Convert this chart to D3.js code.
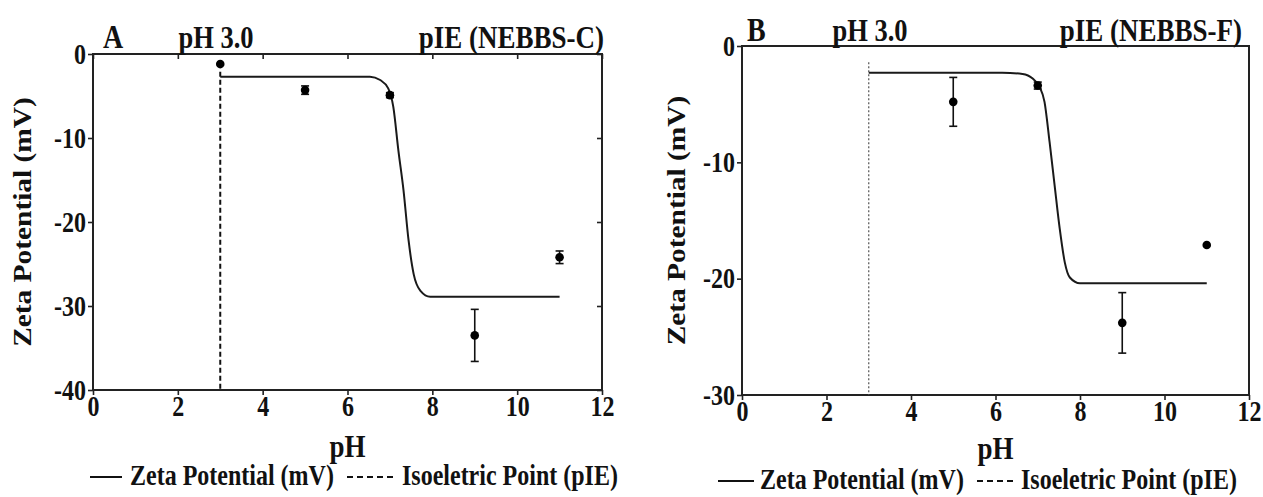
<!DOCTYPE html>
<html><head><meta charset="utf-8">
<script src="https://cdn.jsdelivr.net/npm/d3@7"></script>
<style>
body{margin:0;background:#fff}
text{font-family:"Liberation Serif","Times New Roman",serif;font-weight:bold;fill:#111}
</style>
</head><body>
<svg id="c" width="1263" height="497"></svg>
<script>
// ---------- data ----------
const xTicks = [0, 2, 4, 6, 8, 10, 12];
const aYTicks = [0, -10, -20, -30, -40];
const bYTicks = [0, -10, -20, -30];

const aPH = [3, 5, 7, 9, 11];
const aZeta = [-1.2, -4.3, -4.9, -33.5, -24.2];
const aErr = [0, 0.5, 0.3, 3.1, 0.75];
const aFitPH = [3.0, 6.53, 6.77, 6.96, 7.08, 7.2, 7.32, 7.44, 7.56, 7.72, 7.95, 11.0];
const aFitZeta = [-2.7, -2.7, -3.1, -4.1, -6.3, -11.5, -16.2, -22.2, -26.2, -28.2, -28.9, -28.9];
const aPIE = 3.0;
const aPIEspan = [-2.1, -40];

const bPH = [5, 7, 9, 11];
const bZeta = [-4.8, -3.4, -23.8, -17.1];
const bErr = [2.1, 0.3, 2.6, 0];
const bFitPH = [3.0, 6.16, 6.64, 6.88, 7.04, 7.16, 7.28, 7.40, 7.52, 7.64, 7.76, 8.0, 11.0];
const bFitZeta = [-2.3, -2.3, -2.4, -2.8, -3.5, -4.8, -8.25, -12.0, -15.7, -18.6, -19.9, -20.4, -20.4];
const bPIE = 3.0;
const bPIEspan = [-1.4, -30];

const legendLabels = ["Zeta Potential (mV)", "Isoeletric Point (pIE)"];

// ---------- drawing ----------
const svg = d3.select("#c");
const SY = 1.2;

function txt(g, s, x, y, size, anchor, rot) {
  return g.append("text")
    .attr("transform", `translate(${x},${y}) scale(1,${SY})` + (rot ? ` rotate(${rot})` : ""))
    .attr("text-anchor", anchor || "start")
    .style("font-size", size + "px")
    .text(s);
}

function panel(o) {
  const g = svg.append("g");
  const x = d3.scaleLinear().domain([0, 12]).range([o.x0, o.x1]);
  const y = d3.scaleLinear().domain([o.yMin, 0]).range([o.y1, o.y0]);
  const fmt = d => String(d);

  // frame
  g.append("rect").attr("x", o.x0).attr("y", o.y0)
    .attr("width", o.x1 - o.x0).attr("height", o.y1 - o.y0)
    .attr("fill", "none").attr("stroke", "#222").attr("stroke-width", 2);

  const styleAxis = sel => {
    sel.select(".domain").remove();
    sel.selectAll(".tick line").attr("stroke", "#222").attr("stroke-width", 1.6);
    sel.selectAll(".tick text").style("font-size", o.tickFont + "px").attr("fill", "#111");
  };

  // bottom axis
  const bx = g.append("g").attr("transform", `translate(0,${o.y1})`)
    .call(d3.axisBottom(x).tickValues(xTicks).tickFormat(fmt).tickSize(5).tickSizeOuter(0));
  styleAxis(bx);
  bx.selectAll(".tick text").attr("y", 6 / SY).attr("transform", `scale(1,${SY})`);

  // left axis
  const ly = g.append("g").attr("transform", `translate(${o.x0},0)`)
    .call(d3.axisLeft(y).tickValues(o.yTicks).tickFormat(fmt).tickSize(5).tickPadding(2).tickSizeOuter(0));
  styleAxis(ly);
  ly.selectAll(".tick text").attr("transform", `scale(1,${SY})`);

  if (o.mirror) {
    const tx = g.append("g").attr("transform", `translate(0,${o.y0})`)
      .call(d3.axisTop(x).tickValues(xTicks).tickFormat("").tickSize(-5).tickSizeOuter(0));
    styleAxis(tx);
    const ry = g.append("g").attr("transform", `translate(${o.x1},0)`)
      .call(d3.axisRight(y).tickValues(o.yTicks).tickFormat("").tickSize(-5).tickSizeOuter(0));
    styleAxis(ry);
  }

  // isoelectric point line
  g.append("line")
    .attr("x1", x(o.pie)).attr("x2", x(o.pie))
    .attr("y1", y(o.pieSpan[0])).attr("y2", y(o.pieSpan[1]))
    .attr("stroke", o.pieColor).attr("stroke-width", o.pieWidth)
    .attr("stroke-dasharray", o.pieDash);

  // fitted curve
  const pts = o.fitPH.map((p, i) => [p, o.fitZ[i]]);
  g.append("path").datum(pts)
    .attr("d", d3.line().x(d => x(d[0])).y(d => y(d[1])).curve(d3.curveMonotoneX))
    .attr("fill", "none").attr("stroke", "#1a1a1a").attr("stroke-width", 2);

  // error bars + points
  o.ph.forEach((p, i) => {
    const e = o.err[i];
    if (e > 0) {
      g.append("line").attr("x1", x(p)).attr("x2", x(p))
        .attr("y1", y(o.z[i] + e)).attr("y2", y(o.z[i] - e))
        .attr("stroke", "#111").attr("stroke-width", 1.6);
      [o.z[i] + e, o.z[i] - e].forEach(v => {
        g.append("line").attr("x1", x(p) - 4).attr("x2", x(p) + 4)
          .attr("y1", y(v)).attr("y2", y(v))
          .attr("stroke", "#111").attr("stroke-width", 1.6);
      });
    }
    g.append("circle").attr("cx", x(p)).attr("cy", y(o.z[i])).attr("r", 4.3).attr("fill", "#000");
  });

  // titles
  txt(g, o.letter, o.letterX, o.titleY, 28, "start");
  txt(g, "pH 3.0", o.phTitleX, o.titleY, 26.5, "middle");
  txt(g, o.pieTitle, o.pieTitleX, o.titleY, 27, "end");

  // axis labels
  txt(g, "pH", (o.x0 + o.x1) / 2, o.xLabelY, 27, "middle");
  txt(g, "Zeta Potential (mV)", o.yLabelX, (o.y0 + o.y1) / 2, 24.5, "middle", -90);

  // legend
  const L = o.legend;
  g.append("line").attr("x1", L.s0).attr("x2", L.s1).attr("y1", L.y - 8).attr("y2", L.y - 8)
    .attr("stroke", "#111").attr("stroke-width", 2);
  txt(g, legendLabels[0], L.t0, L.y, 24, "start");
  g.append("line").attr("x1", L.d0).attr("x2", L.d1).attr("y1", L.y - 8).attr("y2", L.y - 8)
    .attr("stroke", "#111").attr("stroke-width", 2).attr("stroke-dasharray", "6,4");
  txt(g, legendLabels[1], L.t1, L.y, 24, "start");
}

panel({
  x0: 93, x1: 602, y0: 54, y1: 390, yMin: -40, yTicks: aYTicks, mirror: true, tickFont: 24,
  ph: aPH, z: aZeta, err: aErr, fitPH: aFitPH, fitZ: aFitZeta,
  pie: aPIE, pieSpan: aPIEspan, pieColor: "#111", pieWidth: 2, pieDash: "5,3",
  letter: "A", letterX: 103, phTitleX: 216, pieTitle: "pIE (NEBBS-C)", pieTitleX: 604, titleY: 48,
  xLabelY: 457, yLabelX: 31,
  legend: { y: 485, s0: 90, s1: 122, t0: 130, d0: 347, d1: 396, t1: 402 }
});

panel({
  x0: 742, x1: 1249, y0: 46, y1: 395, yMin: -30, yTicks: bYTicks, mirror: false, tickFont: 24,
  ph: bPH, z: bZeta, err: bErr, fitPH: bFitPH, fitZ: bFitZeta,
  pie: bPIE, pieSpan: bPIEspan, pieColor: "#555", pieWidth: 1.2, pieDash: "2,2",
  letter: "B", letterX: 747, phTitleX: 870, pieTitle: "pIE (NEBBS-F)", pieTitleX: 1242, titleY: 41,
  xLabelY: 459, yLabelX: 685,
  legend: { y: 489, s0: 718, s1: 754, t0: 760, d0: 977, d1: 1016, t1: 1021 }
});
</script>
</body></html>
